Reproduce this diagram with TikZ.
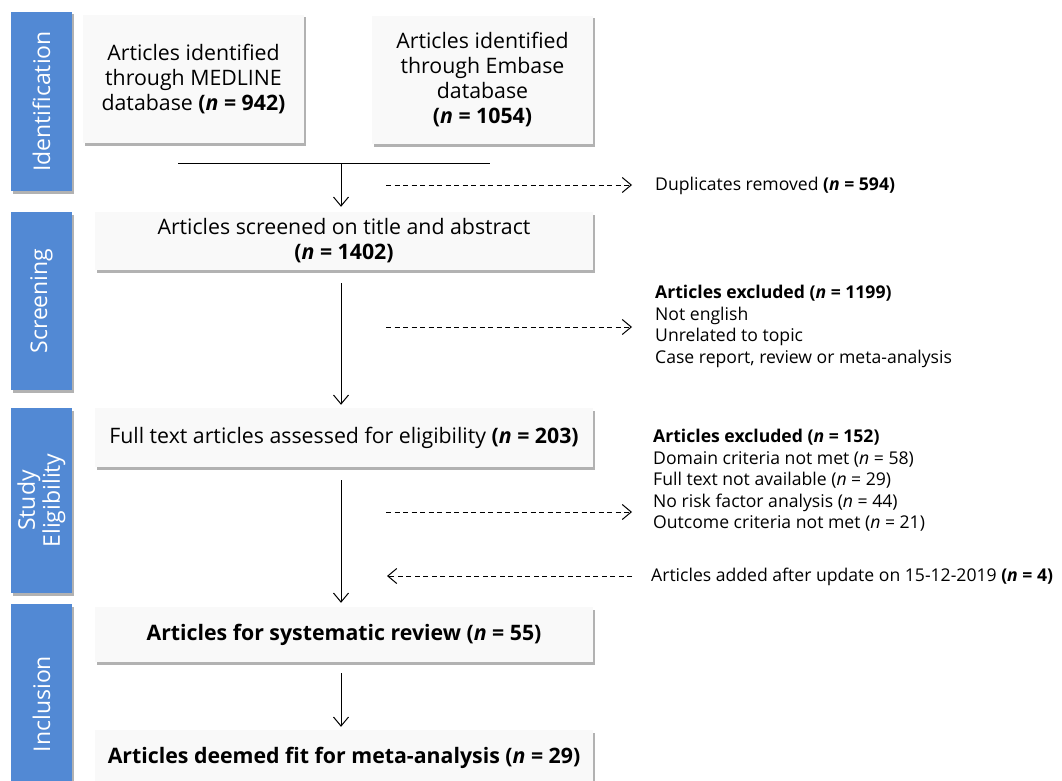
\documentclass[tikz,border=0pt]{standalone}
\usepackage{fontspec}
\setmainfont{Open Sans}
\usetikzlibrary{arrows.meta,shadows,calc}
\definecolor{barblue}{RGB}{82,137,212}
\definecolor{boxfill}{RGB}{249,249,249}
\newcommand{\nb}{\textbf{\textit{n}}}
\begin{document}
\begin{tikzpicture}[x=1pt,y=-1pt,
  phase/.style={fill=barblue, text=white, inner sep=0pt, rotate=90,
    font=\fontsize{23}{25}\selectfont, align=center,
    drop shadow={shadow xshift=1.5pt, shadow yshift=-2.5pt, fill=black, opacity=0.3}},
  stagebox/.style={fill=boxfill, inner sep=0pt, align=center,
    font=\fontsize{21.3}{25}\selectfont,
    drop shadow={shadow xshift=1.5pt, shadow yshift=-2.5pt, fill=black, opacity=0.3}},
  side/.style={anchor=west, align=left, inner sep=0pt,
    font=\fontsize{17.6}{21.6}\selectfont},
  arr/.style={line width=1pt, -{Straight Barb[length=9pt, width=15pt, line width=1pt]}},
  darr/.style={arr, dash pattern=on 5pt off 3.5pt},
]
\useasboundingbox (0,0) rectangle (1062,781);
\clip (0,0) rectangle (1062,781);
\fill[white] (0,0) rectangle (1062,781);

% phase bars
\node[phase, minimum width=179pt, minimum height=61pt] (pid) at (41.5,101.5) {Identification};
\node[phase, minimum width=178pt, minimum height=61pt] (psc) at (41.5,301) {Screening};
\node[phase, minimum width=185pt, minimum height=61pt] (pel) at (41.5,500.5) {Study\\Eligibility};
\node[phase, minimum width=200pt, minimum height=61pt] (pin) at (41.5,704) {Inclusion};

% boxes
\node[stagebox, minimum width=221pt, minimum height=128pt] (med) at (193.5,79)
  {Articles identified\\through MEDLINE\\database \textbf{(\nb{} = 942)}};
\node[stagebox, minimum width=221pt, minimum height=128pt] (emb) at (482.5,80)
  {Articles identified\\through Embase\\database\\\textbf{(\nb{} = 1054)}};
\node[stagebox, minimum width=498pt, minimum height=58pt] (scr) at (344,241)
  {Articles screened on title and abstract\\\textbf{(\nb{} = 1402)}};
\node[stagebox, minimum width=498pt, minimum height=59pt] (elig) at (344,437.5)
  {Full text articles assessed for eligibility \textbf{(\nb{} = 203)}};
\node[stagebox, minimum width=498pt, minimum height=55pt] (inc1) at (344,634.5)
  {\textbf{Articles for systematic review (\textit{n} = 55)}};
\node[stagebox, minimum width=498pt, minimum height=70pt] (inc2) at (344,765)
  {};
\node[inner sep=0pt, font=\fontsize{21.3}{25}\selectfont] (inc2t) at (344,758)
  {\textbf{Articles deemed fit for meta-analysis (\textit{n} = 29)}};

% side texts
\node[side] (dup) at (655,186) {Duplicates removed \textbf{(\nb{} = 594)}};
\node[side, anchor=north west] (ex1) at (655,285)
  {\textbf{Articles excluded (\textit{n} = 1199)}\\Not english\\Unrelated to topic\\Case report, review or meta-analysis};
\node[side, anchor=north west] (ex2) at (653,429)
  {\textbf{Articles excluded (\textit{n} = 152)}\\Domain criteria not met (\textit{n} = 58)\\Full text not available (\textit{n} = 29)\\No risk factor analysis (\textit{n} = 44)\\Outcome criteria not met (\textit{n} = 21)};
\node[side] (add) at (651,577) {Articles added after update on 15-12-2019 \textbf{(\nb{} = 4)}};

% merge line
\coordinate (hl) at (178,163);
\coordinate (hr) at (490,163);
\coordinate (m) at (341,163);
\draw[line width=1pt] (hl) -- (hr);

% main arrows
\draw[arr, shorten >=5pt] (m) -- (scr.north -| m);
\draw[arr, shorten <=13pt, shorten >=3pt] (scr.south -| m) -- (elig.north -| m);
\draw[arr, shorten <=13pt, shorten >=4pt] (elig.south -| m) -- (inc1.north -| m);
\draw[arr, shorten <=11pt, shorten >=3pt] (inc1.south -| m) -- (inc2.north -| m);

% dashed side arrows
\coordinate (d1s) at (386,185);  \coordinate (d1e) at (632,185);
\coordinate (d2s) at (386,327);  \coordinate (d2e) at (632,327);
\coordinate (d3s) at (386,512);  \coordinate (d3e) at (632,512);
\coordinate (d4s) at (632,576);  \coordinate (d4e) at (387,576);
\draw[darr] (d1s) -- (d1e);
\draw[darr] (d2s) -- (d2e);
\draw[darr] (d3s) -- (d3e);
\draw[darr] (d4s) -- (d4e);
\end{tikzpicture}
\end{document}
